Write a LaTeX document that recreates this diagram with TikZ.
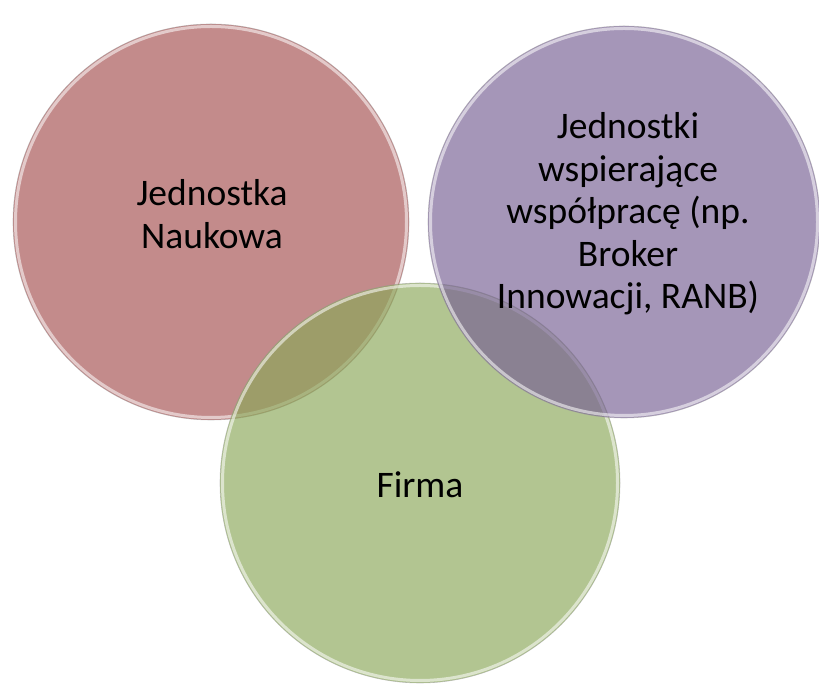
\documentclass[tikz,border=0pt]{standalone}
\usepackage{fontspec}
\setmainfont{Carlito}
\definecolor{redc}{RGB}{164,78,78}
\definecolor{purc}{RGB}{117,94,147}
\definecolor{grnc}{RGB}{137,167,87}
\tikzset{
  bubble/.style={circle, fill opacity=0.65, text opacity=1, draw=none, inner sep=0pt},
  rim/.style={draw=white, line width=3pt, draw opacity=0.55},
  edge/.style={draw=black!40, line width=0.6pt, draw opacity=0.5},
  lbl/.style={align=center, font=\fontsize{37.5}{42.5}\selectfont, text=black}
}
\begin{document}
\begin{tikzpicture}[x=1pt,y=1pt]
\useasboundingbox (0,0) rectangle (819,684);
\fill[white] (0,0) rectangle (819,684);
% red
\node[bubble, fill=redc, minimum size=396pt] (red) at (211,462) {};
\draw[edge] (red.center) circle (198);
\draw[rim] (red.center) circle (195.5);
% green
\node[bubble, fill=grnc, minimum size=400pt] (green) at (420,201) {};
\draw[edge] (green.center) circle (200);
\draw[rim] (green.center) circle (197.5);
% purple
\node[bubble, fill=purc, minimum size=392pt] (purple) at (624,462) {};
\draw[edge] (purple.center) circle (196);
\draw[rim] (purple.center) circle (193.5);
% labels
\node[lbl] (tred) at (212,470) {Jednostka\\Naukowa};
\node[lbl] (tpur) at (628,470) {Jednostki\\wspierające\\współpracę (np.\\Broker\\Innowacji, RANB)};
\node[lbl] (tgrn) at (420,199) {Firma};
\end{tikzpicture}
\end{document}
